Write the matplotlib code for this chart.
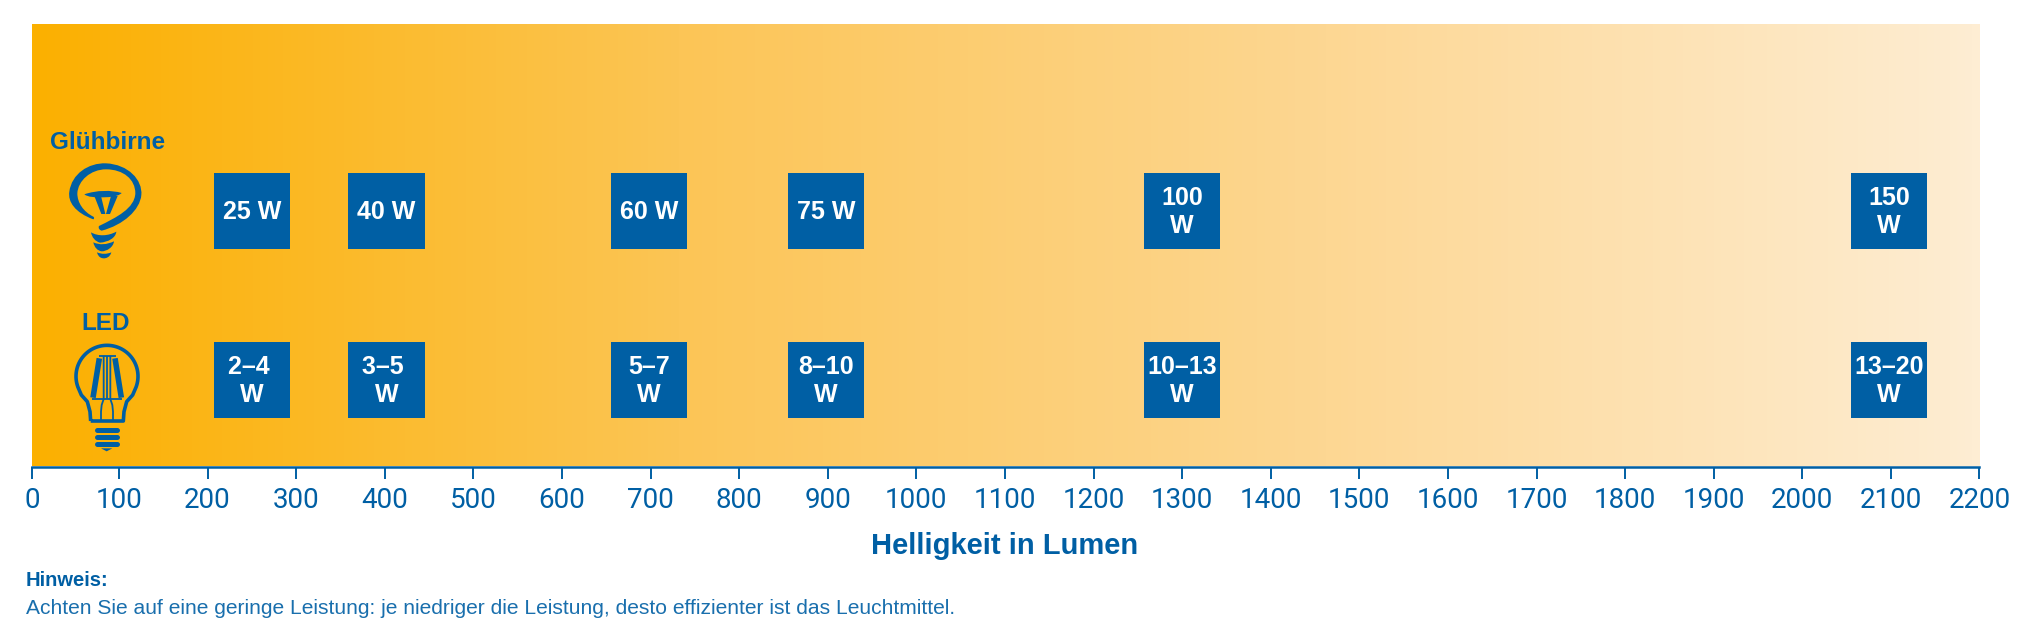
# -*- coding: utf-8 -*-
# Helligkeit von Leuchtmitteln: Gluehbirne und LED im Vergleich
import numpy as np
import matplotlib
matplotlib.use('Agg')
import matplotlib.pyplot as plt
from matplotlib.colors import LinearSegmentedColormap
from matplotlib.patches import PathPatch, Polygon, Rectangle
from matplotlib.path import Path

#%% Data
lumen = [250, 402, 698, 898, 1300, 2098]
watt_bulb = ['25 W', '40 W', '60 W', '75 W', '100\nW', '150\nW']
watt_led = ['2–4 \nW', '3–5 \nW', '5–7\nW', '8–10\nW', '10–13\nW', '13–20\nW']
tick_values = list(range(100, 2201, 100))
tick_labels = [str(t) for t in tick_values]
row_names = ['Glühbirne', 'LED']

#%% Style
BLUE = '#005FA4'
W, H = 2031, 638
plt.rcParams['font.family'] = ['Liberation Sans', 'DejaVu Sans']

#%% Figure, axis starts slightly right of zero like in the original
fig = plt.figure(figsize=(W / 100, H / 100), dpi=100)
x0, x1, y_top, y_bot = 32.4, 1979.5, 24, 466.5
ax = fig.add_axes([x0 / W, 1 - y_bot / H, (x1 - x0) / W, (y_bot - y_top) / H])
x_start = 2.3
ax.set_xlim(x_start, 2200)
ax.set_ylim(0, 1)

#   background gradient
cmap = LinearSegmentedColormap.from_list('glow', ['#FBB000', '#FCC556', '#FDD793', '#FEEDD3'])
ax.imshow(np.linspace(0, 1, 512).reshape(1, -1), cmap=cmap, aspect='auto',
          extent=[x_start, 2200, 0, 1], zorder=0)

#   boxes with watt labels
box_w, box_h = 86, 0.171
for row_y, labels in zip([0.578, 0.195], [watt_bulb, watt_led]):
    for value, label in zip(lumen, labels):
        ax.add_patch(Rectangle((value - box_w / 2, row_y - box_h / 2), box_w, box_h,
                               facecolor=BLUE, edgecolor='none', zorder=2))
        ax.text(value, row_y - 0.002, label, color='white', fontsize=18, fontweight='bold',
                ha='center', va='center', linespacing=1.22, zorder=3)

#   axis
for side in ['top', 'left', 'right']:
    ax.spines[side].set_visible(False)
ax.spines['bottom'].set_color(BLUE)
ax.spines['bottom'].set_linewidth(1.8)
ax.set_yticks([])
ax.set_xticks([x_start] + tick_values, ['0'] + tick_labels)
ax.tick_params(axis='x', length=8.5, width=1.4, color=BLUE, labelcolor=BLUE,
               labelsize=20, pad=6)
for lab in ax.get_xticklabels():
    lab.set_family(['Roboto', 'Liberation Sans'])

#%% Texts below the axis
fig.text(1005 / W, 1 - 546.5 / H, 'Helligkeit in Lumen', color=BLUE, fontsize=21,
         fontweight='bold', ha='center', va='center')
fig.text(26 / W, 1 - 581 / H, 'Hinweis:', color=BLUE, fontsize=14.5,
         fontweight='bold', ha='left', va='center')
fig.text(26 / W, 1 - 608 / H,
         'Achten Sie auf eine geringe Leistung: je niedriger die Leistung, '
         'desto effizienter ist das Leuchtmittel.',
         color=BLUE, fontsize=15.1, ha='left', va='center', alpha=0.9)

#%% Icons, drawn on an overlay with 3 units per pixel
icon = fig.add_axes([0, 1 - 500 / H, 450 / W, 400 / H])
icon.set_xlim(0, 1350)
icon.set_ylim(1200, 0)
icon.axis('off')
icon.patch.set_alpha(0)


def blob(points):
    """Closed filled shape: first point, then triples of bezier points."""
    verts = [points[0]] + points[1:] + [points[0]]
    codes = [Path.MOVETO] + [Path.CURVE4] * (len(points) - 1) + [Path.CLOSEPOLY]
    icon.add_patch(PathPatch(Path(verts, codes), facecolor=BLUE, edgecolor='none'))


def stroke(xs, ys, lw, cap='butt'):
    icon.plot(xs, ys, color=BLUE, lw=lw, solid_capstyle=cap, solid_joinstyle='round')


icon.text(323, 128, row_names[0], color=BLUE, fontsize=17.5, fontweight='bold',
          ha='center', va='center')
icon.text(318, 671, row_names[1], color=BLUE, fontsize=17.5, fontweight='bold',
          ha='center', va='center')

#   Gluehbirne glass
blob([(280, 358),
      (225, 338), (203, 305), (208, 275),
      (215, 222), (265, 188), (318, 190),
      (385, 193), (428, 240), (424, 285),
      (420, 330), (370, 375), (305, 392),
      (298, 390), (294, 384), (297, 378),
      (350, 352), (404, 325), (406, 280),
      (406, 238), (370, 208), (318, 208),
      (272, 208), (234, 242), (232, 280),
      (232, 308), (250, 335), (280, 350),
      (283, 352), (283, 356), (280, 358)])
#   Gluehbirne filament
blob([(253, 283),
      (290, 270), (335, 270), (365, 279),
      (352, 292), (320, 292), (300, 292),
      (285, 292), (265, 292), (253, 283)])
icon.add_patch(Polygon([(283, 288), (303, 288), (316, 342), (304, 342)], facecolor=BLUE))
icon.add_patch(Polygon([(333, 288), (353, 288), (330, 342), (318, 342)], facecolor=BLUE))
#   Gluehbirne screw
blob([(273, 397),
      (295, 410), (325, 408), (349, 395),
      (347, 414), (325, 426), (300, 428),
      (285, 424), (276, 412), (273, 397)])
blob([(280, 427),
      (300, 436), (320, 434), (342, 424),
      (340, 442), (320, 454), (305, 454),
      (292, 452), (283, 442), (280, 427)])
blob([(291, 457),
      (305, 463), (320, 463), (334, 457),
      (330, 472), (318, 475), (312, 475),
      (304, 475), (295, 472), (291, 457)])

#   LED glass outline
t = np.linspace(np.radians(200), np.radians(-20), 60)
glass_x = 321 + 93 * np.cos(t)
glass_y = 829 - 93 * np.sin(t)
outline_x = np.r_[272, 270, 262, 244, glass_x, 398, 380, 372, 370, 272]
outline_y = np.r_[963, 935, 905, 885, glass_y, 885, 905, 935, 963, 963]
stroke(outline_x, outline_y, 2.6)
#   LED filaments
stroke([298, 279], [775, 893], 4.0)
stroke([345, 364], [775, 893], 4.0)
stroke([296, 347], [767, 767], 1.3)
stroke([277, 366], [897, 897], 1.3)
stroke([311, 311, 305, 303, 303], [767, 897, 915, 935, 963], 1.3)
stroke([331, 331, 337, 339, 339], [767, 897, 915, 935, 963], 1.3)
stroke([320, 320], [767, 897], 1.3)
#   LED screw
for yy in [990, 1012, 1033]:
    stroke([290, 352], [yy, yy], 3.6, cap='round')
icon.add_patch(Polygon([(303, 1045), (337, 1045), (320, 1054)], facecolor=BLUE))

fig.savefig('out.png', dpi=100)
